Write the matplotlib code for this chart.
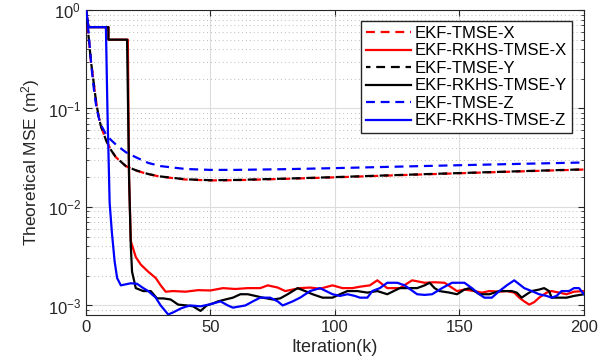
#!/usr/bin/env python3

import numpy as np
import matplotlib
matplotlib.use("Agg")
import matplotlib.pyplot as plt

#================ Data =============================================
# EKF-TMSE curves (dashed, smooth)
k_tmse = [0, 1, 2, 3, 4, 5, 6, 8, 10, 12, 16, 20, 25, 30, 40, 50, 60, 80, 100, 120, 140, 160, 180, 200]
tmse_x = [1.0, 0.55, 0.3, 0.19, 0.12, 0.085, 0.066, 0.048, 0.038, 0.032, 0.026, 0.0235, 0.0215, 0.0203, 0.019, 0.0186, 0.0187, 0.0193, 0.0200, 0.0208, 0.0216, 0.0224, 0.0232, 0.0240]
tmse_y = [1.0, 0.55, 0.3, 0.19, 0.12, 0.085, 0.066, 0.048, 0.038, 0.032, 0.026, 0.0236, 0.0216, 0.0204, 0.0191, 0.0187, 0.0188, 0.0194, 0.0201, 0.0209, 0.0217, 0.0225, 0.0233, 0.0241]
tmse_z = [1.0, 0.6, 0.3, 0.17, 0.11, 0.083, 0.068, 0.055, 0.048, 0.043, 0.036, 0.032, 0.028, 0.026, 0.0243, 0.0238, 0.0238, 0.0242, 0.0248, 0.0255, 0.0262, 0.0269, 0.0276, 0.0283]

# EKF-RKHS-TMSE-X (solid red)
k_rx = [0, 1, 9, 9, 16.8, 17.3, 18, 20, 22, 25, 28, 30, 32, 35, 40, 45, 50, 55, 60, 65, 70, 73, 77, 80, 83, 86,
        90, 94, 99, 103, 107, 110, 114, 117, 121, 126, 131, 136, 140, 144, 149, 152, 156, 159, 162, 166, 169, 172, 174, 176, 178, 180, 182, 185, 187, 190, 193, 196, 200]
rx = [1.0, 0.67, 0.67, 0.5, 0.5, 0.02, 0.0045, 0.0031, 0.0026, 0.0022, 0.0019, 0.0016, 0.00138, 0.0014, 0.00138, 0.00143, 0.00142, 0.0015, 0.00147, 0.0015, 0.0015, 0.0016, 0.00152, 0.0014, 0.00145, 0.0015,
      0.00152, 0.00148, 0.0016, 0.0015, 0.0015, 0.00155, 0.0016, 0.0018, 0.0015, 0.0015, 0.0018, 0.0017, 0.00172, 0.0017, 0.0014, 0.00145, 0.0014, 0.00135, 0.0014, 0.00138, 0.0014, 0.00135, 0.0012, 0.0011, 0.00102, 0.00108, 0.0012, 0.00135, 0.0014, 0.00135, 0.0013, 0.00138, 0.0014]

# EKF-RKHS-TMSE-Y (solid black)
k_ry = [0, 1, 9, 9, 16.5, 17.3, 18, 18.5, 20, 23, 26, 28.5, 31, 34, 37, 40.5, 43, 46, 48.5, 51, 53, 56, 59, 62, 65, 68, 71, 75, 78, 81, 85,
        88, 91, 95, 99, 102, 105, 109, 113, 117, 121, 126, 130, 133, 136, 138, 140, 142, 146, 149, 152, 154, 156, 158, 162, 166, 171, 173, 175, 177, 179, 182, 184, 186, 187, 190, 193, 196, 200]
ry = [1.0, 0.67, 0.67, 0.5, 0.5, 0.02, 0.004, 0.0022, 0.0015, 0.0014, 0.0014, 0.00118, 0.00118, 0.00115, 0.00102, 0.001, 0.00098, 0.00088, 0.001, 0.00105, 0.0011, 0.00115, 0.0012, 0.0013, 0.0013, 0.00125, 0.0012, 0.00115, 0.00118, 0.0013, 0.0015,
      0.0014, 0.0013, 0.0012, 0.0012, 0.0013, 0.0014, 0.0014, 0.00135, 0.0014, 0.0013, 0.0015, 0.0015, 0.0015, 0.0016, 0.0017, 0.0015, 0.0014, 0.00135, 0.0013, 0.00145, 0.0015, 0.0014, 0.0013, 0.0013, 0.0014, 0.0014, 0.00135, 0.0012, 0.0013, 0.0014, 0.00145, 0.0015, 0.0014, 0.0012, 0.0012, 0.0012, 0.00125, 0.0013]

# EKF-RKHS-TMSE-Z (solid blue)
k_rz = [0, 1, 8, 8.6, 9.5, 10.4, 11.5, 12.5, 14, 18, 20.5, 23, 25, 28, 30, 33, 35, 38, 40, 42, 46, 50, 54, 57, 59, 62, 64, 67, 70, 74, 77, 79, 83, 86,
        90, 94, 99, 102, 105, 108, 110, 113, 115, 118, 121, 125, 128, 133, 136, 139, 143, 147, 152, 155, 158, 160, 163, 166, 169, 172, 176, 179, 182, 185, 187, 189, 191, 194, 196, 198, 200]
rz = [1.0, 0.67, 0.67, 0.1, 0.011, 0.0055, 0.0028, 0.0019, 0.0016, 0.00168, 0.00166, 0.0015, 0.0014, 0.0012, 0.001, 0.00081, 0.00085, 0.00093, 0.00097, 0.001, 0.00098, 0.00103, 0.0011, 0.001, 0.00095, 0.00098, 0.001, 0.0011, 0.0012, 0.0012, 0.0011, 0.001, 0.0011, 0.0012,
      0.0014, 0.0015, 0.0013, 0.00125, 0.0013, 0.00125, 0.0012, 0.0012, 0.0014, 0.0015, 0.0017, 0.0017, 0.0016, 0.0013, 0.00128, 0.0013, 0.0015, 0.0017, 0.0017, 0.0015, 0.0013, 0.0012, 0.0012, 0.0014, 0.0016, 0.0018, 0.0015, 0.0014, 0.0013, 0.00125, 0.0012, 0.00125, 0.0014, 0.0014, 0.0015, 0.0015, 0.0013]

series_names = ['EKF-TMSE-X', 'EKF-RKHS-TMSE-X', 'EKF-TMSE-Y', 'EKF-RKHS-TMSE-Y', 'EKF-TMSE-Z', 'EKF-RKHS-TMSE-Z']

#================ Plot ==================================
plt.rcParams['font.family'] = ['Liberation Sans', 'DejaVu Sans']
plt.rcParams['mathtext.fontset'] = 'custom'
plt.rcParams['mathtext.rm'] = 'Liberation Sans'
plt.rcParams['mathtext.it'] = 'Liberation Sans'

fig = plt.figure(figsize=(6.16, 3.64), dpi=100)
ax = fig.add_axes([0.1396, 0.1346, 0.8084, 0.8379])

lw = 1.6
dash = (0, (4, 2.6))
ax.plot(k_tmse, tmse_x, color='red', lw=lw, linestyle=dash, label=series_names[0], zorder=3)
ax.plot(k_rx, rx, color='red', lw=lw, label=series_names[1], zorder=3)
ax.plot(k_tmse, tmse_y, color='black', lw=lw, linestyle=(2, (4, 2.6)), label=series_names[2], zorder=3)
ax.plot(k_ry, ry, color='black', lw=lw, label=series_names[3], zorder=3)
ax.plot(k_tmse, tmse_z, color='blue', lw=lw, linestyle=dash, label=series_names[4], zorder=3)
ax.plot(k_rz, rz, color='blue', lw=lw, label=series_names[5], zorder=4)

ax.set_yscale('log')
ax.set_xlim(0, 200)
ax.set_ylim(8e-4, 1)
ax.set_xticks([0, 50, 100, 150, 200])

# MATLAB-like grid and ticks
ax.grid(True, which='major', color='#dcdcdc', linewidth=0.8, linestyle='-')
ax.grid(True, which='minor', axis='y', color='#bbbbbb', linewidth=0.7, linestyle=(0, (1, 3)))
ax.tick_params(which='both', direction='in', top=True, right=True, labelsize=12, colors='#262626')
ax.tick_params(which='major', length=4)
ax.tick_params(which='minor', length=2)
for side in ax.spines.values():
    side.set_color('#262626')
    side.set_linewidth(0.8)

ax.set_xlabel('Iteration(k)', fontsize=13, color='#262626', labelpad=3)
ax.set_ylabel('Theoretical MSE (m$^2$)', fontsize=12.5, color='#262626', labelpad=4)

ax.legend(loc='upper right', bbox_to_anchor=(0.976, 0.964), fontsize=12, frameon=True, fancybox=False,
          edgecolor='#262626', framealpha=1, handlelength=2.7, handletextpad=0.25, labelspacing=0.15,
          borderpad=0.3, borderaxespad=0)

fig.savefig('out.png', dpi=100)
